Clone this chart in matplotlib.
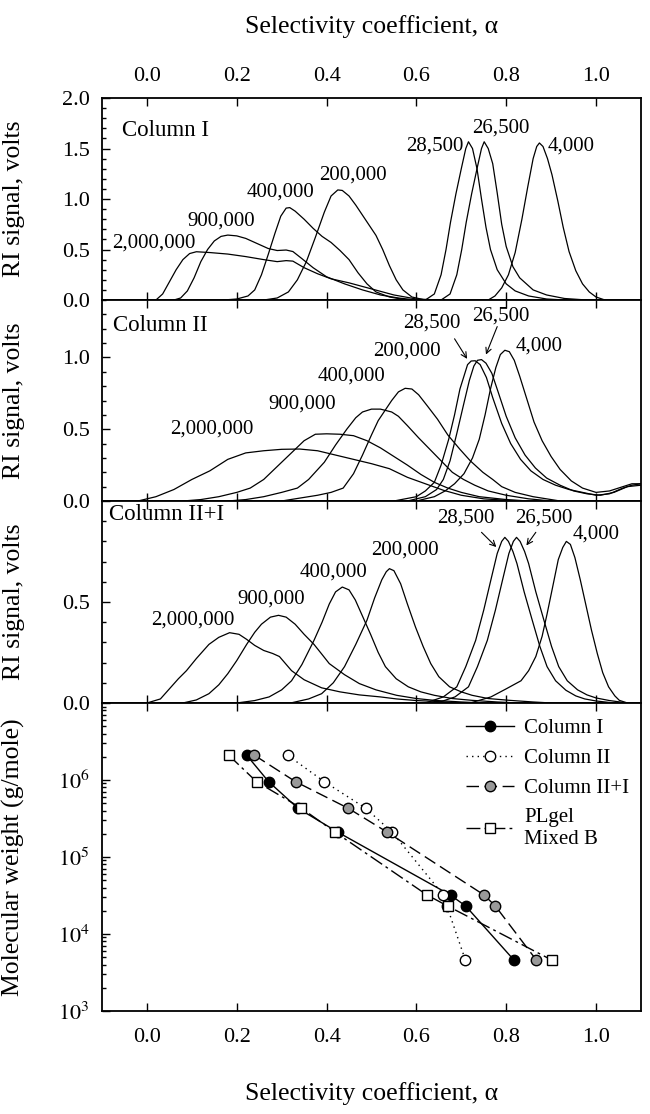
import math
import matplotlib
matplotlib.use('Agg')
import matplotlib.pyplot as plt
from matplotlib.ticker import FixedLocator, MultipleLocator, LogLocator, NullFormatter

plt.rcParams['font.family'] = ['Liberation Serif', 'DejaVu Serif']
plt.rcParams['mathtext.fontset'] = 'stix'

# chromatograms, (alpha, RI signal)
# Column I
c1_2000000 = [(0.02, 0.0), (0.035, 0.06), (0.05, 0.18), (0.065, 0.30), (0.08, 0.40), (0.095, 0.46),
              (0.11, 0.478), (0.14, 0.47), (0.18, 0.455), (0.22, 0.43), (0.26, 0.40), (0.29, 0.38),
              (0.31, 0.39), (0.325, 0.385), (0.35, 0.32), (0.38, 0.26), (0.41, 0.21), (0.45, 0.17),
              (0.50, 0.11), (0.55, 0.05), (0.60, 0.01), (0.65, 0.0)]
c1_900000 = [(0.06, 0.0), (0.075, 0.02), (0.09, 0.09), (0.105, 0.22), (0.12, 0.38), (0.135, 0.50),
             (0.15, 0.585), (0.165, 0.63), (0.18, 0.643), (0.20, 0.635), (0.22, 0.61), (0.245, 0.56),
             (0.27, 0.51), (0.29, 0.49), (0.31, 0.495), (0.325, 0.48), (0.345, 0.41), (0.37, 0.32),
             (0.40, 0.23), (0.44, 0.16), (0.48, 0.10), (0.52, 0.05), (0.56, 0.02), (0.60, 0.0)]
c1_400000 = [(0.17, 0.0), (0.20, 0.01), (0.225, 0.04), (0.24, 0.10), (0.255, 0.25), (0.27, 0.45),
             (0.285, 0.66), (0.298, 0.83), (0.31, 0.91), (0.318, 0.915), (0.33, 0.88), (0.35, 0.80),
             (0.37, 0.71), (0.39, 0.63), (0.41, 0.57), (0.43, 0.49), (0.45, 0.40), (0.47, 0.27),
             (0.49, 0.16), (0.51, 0.08), (0.54, 0.03), (0.58, 0.0)]
c1_200000 = [(0.26, 0.0), (0.29, 0.02), (0.315, 0.08), (0.335, 0.20), (0.355, 0.38), (0.375, 0.62),
             (0.395, 0.87), (0.41, 1.03), (0.425, 1.09), (0.435, 1.085), (0.45, 1.03), (0.465, 0.94),
             (0.48, 0.84), (0.495, 0.74), (0.51, 0.64), (0.525, 0.50), (0.54, 0.34), (0.555, 0.20),
             (0.57, 0.10), (0.59, 0.03), (0.62, 0.0)]
c1_28500 = [(0.62, 0.0), (0.64, 0.06), (0.655, 0.25), (0.666, 0.50), (0.676, 0.77), (0.688, 1.05),
            (0.70, 1.30), (0.71, 1.50), (0.716, 1.567), (0.725, 1.50), (0.735, 1.30), (0.745, 1.0),
            (0.755, 0.72), (0.765, 0.50), (0.78, 0.30), (0.80, 0.16), (0.82, 0.09), (0.85, 0.04),
            (0.89, 0.01), (0.93, 0.0)]
c1_26500 = [(0.655, 0.0), (0.675, 0.06), (0.69, 0.25), (0.701, 0.50), (0.711, 0.77), (0.723, 1.05),
            (0.735, 1.30), (0.745, 1.50), (0.751, 1.567), (0.76, 1.50), (0.77, 1.35), (0.78, 1.06),
            (0.79, 0.75), (0.80, 0.53), (0.815, 0.33), (0.83, 0.22), (0.86, 0.10), (0.89, 0.05),
            (0.93, 0.015), (0.98, 0.0)]
c1_4000 = [(0.76, 0.0), (0.775, 0.04), (0.79, 0.12), (0.805, 0.25), (0.82, 0.47), (0.835, 0.80),
           (0.848, 1.12), (0.86, 1.40), (0.868, 1.52), (0.874, 1.555), (0.882, 1.52), (0.892, 1.40),
           (0.902, 1.24), (0.915, 0.98), (0.927, 0.72), (0.94, 0.48), (0.955, 0.29), (0.97, 0.16),
           (0.985, 0.08), (1.0, 0.03), (1.02, 0.0)]

# Column II
c2_2000000 = [(-0.02, 0.0), (0.02, 0.03), (0.06, 0.08), (0.10, 0.15), (0.14, 0.21), (0.18, 0.29),
              (0.22, 0.335), (0.26, 0.35), (0.30, 0.36), (0.34, 0.362), (0.38, 0.35), (0.42, 0.32),
              (0.46, 0.29), (0.50, 0.26), (0.54, 0.225), (0.58, 0.165), (0.62, 0.12), (0.66, 0.075),
              (0.70, 0.04), (0.75, 0.015), (0.80, 0.005), (0.85, 0.0)]
c2_900000 = [(0.08, 0.0), (0.12, 0.01), (0.16, 0.03), (0.20, 0.06), (0.23, 0.09), (0.26, 0.15),
             (0.29, 0.24), (0.32, 0.33), (0.35, 0.42), (0.375, 0.465), (0.40, 0.468), (0.43, 0.465),
             (0.46, 0.455), (0.49, 0.42), (0.52, 0.37), (0.55, 0.31), (0.58, 0.25), (0.61, 0.185),
             (0.64, 0.13), (0.67, 0.09), (0.70, 0.06), (0.74, 0.03), (0.80, 0.01), (0.85, 0.0)]
c2_400000 = [(0.18, 0.0), (0.22, 0.01), (0.26, 0.03), (0.30, 0.06), (0.335, 0.09), (0.36, 0.15),
             (0.395, 0.27), (0.42, 0.39), (0.445, 0.50), (0.465, 0.58), (0.48, 0.62), (0.50, 0.64),
             (0.52, 0.64), (0.545, 0.62), (0.56, 0.59), (0.58, 0.525), (0.605, 0.44), (0.63, 0.36),
             (0.655, 0.28), (0.68, 0.20), (0.705, 0.15), (0.73, 0.11), (0.76, 0.07), (0.80, 0.04),
             (0.85, 0.015), (0.90, 0.0)]
c2_200000 = [(0.30, 0.0), (0.34, 0.02), (0.38, 0.04), (0.41, 0.06), (0.437, 0.09), (0.46, 0.19),
             (0.48, 0.32), (0.50, 0.46), (0.515, 0.56), (0.53, 0.63), (0.545, 0.70), (0.56, 0.76),
             (0.575, 0.785), (0.59, 0.78), (0.605, 0.74), (0.625, 0.66), (0.647, 0.57), (0.67, 0.46),
             (0.697, 0.36), (0.72, 0.28), (0.748, 0.20), (0.77, 0.15), (0.79, 0.10), (0.82, 0.06),
             (0.86, 0.03), (0.92, 0.0)]
c2_28500 = [(0.55, 0.0), (0.60, 0.03), (0.62, 0.07), (0.64, 0.13), (0.655, 0.25), (0.672, 0.43),
            (0.685, 0.60), (0.697, 0.78), (0.707, 0.88), (0.714, 0.95), (0.722, 0.975), (0.731, 0.977),
            (0.742, 0.95), (0.756, 0.86), (0.77, 0.72), (0.79, 0.54), (0.81, 0.40), (0.832, 0.29),
            (0.855, 0.21), (0.882, 0.15), (0.91, 0.11), (0.94, 0.08), (0.97, 0.06), (1.0, 0.04),
            (1.03, 0.05), (1.06, 0.09), (1.08, 0.11), (1.10, 0.12)]
c2_26500 = [(0.58, 0.0), (0.62, 0.03), (0.645, 0.08), (0.66, 0.15), (0.675, 0.28), (0.69, 0.47),
            (0.705, 0.67), (0.718, 0.84), (0.728, 0.94), (0.736, 0.98), (0.745, 0.985), (0.755, 0.96),
            (0.768, 0.89), (0.782, 0.76), (0.80, 0.59), (0.82, 0.44), (0.842, 0.32), (0.865, 0.23),
            (0.89, 0.16), (0.92, 0.11), (0.95, 0.07), (0.98, 0.05), (1.01, 0.04), (1.04, 0.06),
            (1.07, 0.10), (1.10, 0.11)]
c2_4000 = [(0.60, 0.0), (0.64, 0.03), (0.664, 0.07), (0.685, 0.12), (0.706, 0.19), (0.725, 0.30),
           (0.74, 0.43), (0.753, 0.60), (0.765, 0.78), (0.777, 0.93), (0.787, 1.02), (0.797, 1.05),
           (0.807, 1.04), (0.818, 0.98), (0.83, 0.87), (0.845, 0.72), (0.862, 0.55), (0.88, 0.42),
           (0.90, 0.31), (0.92, 0.22), (0.945, 0.14), (0.97, 0.09), (1.0, 0.06), (1.03, 0.07),
           (1.06, 0.10), (1.08, 0.12), (1.10, 0.12)]

# Column II+I
c3_2000000 = [(0.0, 0.0), (0.03, 0.02), (0.054, 0.08), (0.07, 0.12), (0.088, 0.16), (0.11, 0.22),
              (0.138, 0.29), (0.16, 0.325), (0.184, 0.348), (0.205, 0.34), (0.222, 0.315), (0.24, 0.285),
              (0.26, 0.26), (0.28, 0.245), (0.295, 0.23), (0.322, 0.16), (0.35, 0.115), (0.389, 0.075),
              (0.43, 0.055), (0.473, 0.04), (0.52, 0.03), (0.556, 0.02), (0.60, 0.012), (0.64, 0.008),
              (0.70, 0.0)]
c3_900000 = [(0.08, 0.0), (0.11, 0.015), (0.138, 0.046), (0.16, 0.09), (0.18, 0.145), (0.20, 0.21),
             (0.222, 0.29), (0.24, 0.35), (0.255, 0.39), (0.275, 0.425), (0.293, 0.434), (0.31, 0.425),
             (0.33, 0.39), (0.35, 0.34), (0.372, 0.29), (0.39, 0.24), (0.406, 0.195), (0.44, 0.14),
             (0.473, 0.096), (0.51, 0.065), (0.556, 0.038), (0.60, 0.022), (0.64, 0.013), (0.70, 0.005),
             (0.75, 0.0)]
c3_400000 = [(0.20, 0.0), (0.24, 0.012), (0.272, 0.03), (0.30, 0.065), (0.322, 0.11), (0.345, 0.19),
             (0.372, 0.31), (0.39, 0.40), (0.406, 0.49), (0.42, 0.55), (0.435, 0.574), (0.45, 0.56),
             (0.464, 0.51), (0.48, 0.43), (0.498, 0.34), (0.515, 0.25), (0.531, 0.18), (0.555, 0.12),
             (0.582, 0.08), (0.61, 0.055), (0.64, 0.038), (0.68, 0.022), (0.724, 0.013), (0.78, 0.005),
             (0.83, 0.0)]
c3_200000 = [(0.32, 0.0), (0.36, 0.02), (0.389, 0.046), (0.415, 0.10), (0.44, 0.18), (0.465, 0.29),
             (0.49, 0.41), (0.507, 0.52), (0.523, 0.61), (0.533, 0.65), (0.54, 0.665), (0.55, 0.655),
             (0.565, 0.59), (0.58, 0.49), (0.598, 0.376), (0.615, 0.28), (0.632, 0.195), (0.65, 0.13),
             (0.674, 0.08), (0.70, 0.055), (0.724, 0.038), (0.76, 0.022), (0.808, 0.013), (0.86, 0.005),
             (0.90, 0.0)]
c3_28500 = [(0.62, 0.0), (0.66, 0.03), (0.69, 0.08), (0.71, 0.18), (0.732, 0.31), (0.75, 0.46),
            (0.766, 0.61), (0.78, 0.74), (0.79, 0.80), (0.797, 0.82), (0.805, 0.80), (0.815, 0.75),
            (0.824, 0.69), (0.84, 0.55), (0.858, 0.41), (0.875, 0.28), (0.891, 0.18), (0.91, 0.11),
            (0.933, 0.063), (0.955, 0.035), (0.975, 0.02), (1.0, 0.01), (1.04, 0.0)]
c3_26500 = [(0.646, 0.0), (0.686, 0.03), (0.716, 0.08), (0.736, 0.18), (0.758, 0.31), (0.776, 0.46),
            (0.792, 0.61), (0.806, 0.74), (0.816, 0.80), (0.823, 0.82), (0.831, 0.80), (0.841, 0.75),
            (0.85, 0.69), (0.866, 0.55), (0.884, 0.41), (0.901, 0.28), (0.917, 0.18), (0.936, 0.11),
            (0.959, 0.065), (0.98, 0.04), (1.0, 0.025), (1.03, 0.012), (1.07, 0.0)]
c3_4000 = [(0.72, 0.0), (0.766, 0.03), (0.80, 0.07), (0.833, 0.11), (0.85, 0.16), (0.866, 0.23),
           (0.88, 0.33), (0.891, 0.44), (0.904, 0.58), (0.916, 0.71), (0.926, 0.77), (0.934, 0.80),
           (0.943, 0.785), (0.953, 0.72), (0.965, 0.61), (0.978, 0.48), (0.99, 0.36), (1.003, 0.244),
           (1.015, 0.15), (1.028, 0.08), (1.042, 0.035), (1.052, 0.013), (1.07, 0.0)]

peak_labels = ['2,000,000', '900,000', '400,000', '200,000', '28,500', '26,500', '4,000']

# calibration: molecular weight vs alpha
mol_weight = [2.1e6, 9.5e5, 4.3e5, 2.1e5, 3.2e4, 2.3e4, 4.6e3]
alpha_col1 = [0.222, 0.271, 0.336, 0.425, 0.676, 0.710, 0.817]
alpha_col2 = [0.313, 0.395, 0.487, 0.546, 0.660, 0.668, 0.709]
alpha_col21 = [0.239, 0.331, 0.448, 0.535, 0.751, 0.776, 0.867]
alpha_plgel = [0.182, 0.244, 0.344, 0.419, 0.624, 0.670, 0.901]

fig = plt.figure(figsize=(6.5, 11.14), dpi=100)
gs = fig.add_gridspec(4, 1, height_ratios=[202, 201, 202, 308], hspace=0,
                      left=0.157, right=0.986, top=0.912, bottom=0.0925)
ax1 = fig.add_subplot(gs[0])
ax2 = fig.add_subplot(gs[1], sharex=ax1)
ax3 = fig.add_subplot(gs[2], sharex=ax1)
ax4 = fig.add_subplot(gs[3], sharex=ax1)
axes = [ax1, ax2, ax3, ax4]

for ax in axes:
    for sp in ax.spines.values():
        sp.set_linewidth(1.3)
    ax.tick_params(which='both', direction='in', top=True, bottom=True, right=False,
                   labeltop=False, labelbottom=False, labelsize=16, pad=9, width=1)
    ax.tick_params(which='major', length=6)
    ax.tick_params(which='minor', length=3)
    ax.set_xlim(-0.1, 1.1)
    ax.xaxis.set_major_locator(FixedLocator([0.0, 0.2, 0.4, 0.6, 0.8, 1.0]))
    ax.xaxis.set_major_formatter(lambda v, p: f'{v:.1f}')
ax1.tick_params(axis='x', labeltop=True, pad=9)
ax4.tick_params(axis='x', labelbottom=True, pad=12)

panels = [
    (ax1, [c1_2000000, c1_900000, c1_400000, c1_200000, c1_28500, c1_26500, c1_4000], 2.0,
     [0.0, 0.5, 1.0, 1.5, 2.0], True),
    (ax2, [c2_2000000, c2_900000, c2_400000, c2_200000, c2_28500, c2_26500, c2_4000], 1.4,
     [0.0, 0.5, 1.0], True),
    (ax3, [c3_2000000, c3_900000, c3_400000, c3_200000, c3_28500, c3_26500, c3_4000], 1.0,
     [0.0, 0.5, 1.0], False),
]
for ax, curves, ytop, yt, show_top in panels:
    for pts in curves:
        a, s = zip(*pts)
        ax.plot(a, s, color='k', lw=0.9)
    ax.set_ylim(0, ytop)
    ax.yaxis.set_major_locator(FixedLocator(yt))
    ax.yaxis.set_minor_locator(MultipleLocator(0.1))
    top_val = yt[-1]
    ax.yaxis.set_major_formatter(
        lambda v, p, tv=top_val, st=show_top: '' if (abs(v - tv) < 1e-9 and not st) else f'{v:.1f}')
    ax.set_ylabel('RI signal, volts', fontsize=18.5)
    ax.yaxis.set_label_coords(-0.143, 0.5)

fs_num = 15
# Column I labels
ax1.text(-0.056, 1.68, 'Column I', fontsize=16.5, ha='left', va='center')
for lab, (x, y) in zip(peak_labels, [(0.015, 0.565), (0.166, 0.78), (0.298, 1.07), (0.458, 1.24),
                                     (0.64, 1.52), (0.788, 1.70), (0.945, 1.52)]):
    ax1.text(x, y, lab, fontsize=fs_num, ha='center', va='center')

# Column II labels
ax2.text(-0.076, 1.22, 'Column II', fontsize=16.5, ha='left', va='center')
for lab, (x, y) in zip(peak_labels, [(0.145, 0.50), (0.346, 0.676), (0.455, 0.873), (0.58, 1.046),
                                     (0.634, 1.243), (0.788, 1.29), (0.874, 1.08)]):
    ax2.text(x, y, lab, fontsize=fs_num, ha='center', va='center')
arrow = dict(arrowstyle='->', lw=0.8, color='k', shrinkA=0, shrinkB=0)
ax2.annotate('', xy=(0.713, 0.99), xytext=(0.685, 1.13), arrowprops=arrow)
ax2.annotate('', xy=(0.755, 1.02), xytext=(0.78, 1.215), arrowprops=arrow)

# Column II+I labels
ax3.text(-0.085, 0.935, 'Column II+I', fontsize=16.5, ha='left', va='center')
for lab, (x, y) in zip(peak_labels, [(0.102, 0.41), (0.276, 0.516), (0.416, 0.65), (0.575, 0.756),
                                     (0.709, 0.915), (0.883, 0.915), (1.0, 0.838)]):
    ax3.text(x, y, lab, fontsize=fs_num, ha='center', va='center')
ax3.annotate('', xy=(0.778, 0.772), xytext=(0.745, 0.845), arrowprops=arrow)
ax3.annotate('', xy=(0.845, 0.78), xytext=(0.866, 0.845), arrowprops=arrow)

# calibration curves
ax4.set_yscale('log')
ax4.set_ylim(1e3, 1e7)
ax4.plot(alpha_col1, mol_weight, '-', color='k', lw=1.0, marker='o', ms=7.5,
         mfc='k', mec='k', label='Column I')
ax4.plot(alpha_col2, mol_weight, color='k', lw=1.0, ls=(0, (1, 3)), marker='o', ms=7.5,
         mfc='white', mec='k', label='Column II')
ax4.plot(alpha_col21, mol_weight, color='k', lw=1.0, ls=(0, (9, 4)), marker='o', ms=7.5,
         mfc='0.6', mec='k', label='Column II+I')
ax4.plot(alpha_plgel, mol_weight, color='k', lw=1.0, ls=(0, (10, 3, 2, 3)), marker='s', ms=7.5,
         mfc='white', mec='k', label='PLgel\nMixed B')
ax4.yaxis.set_major_locator(FixedLocator([1e3, 1e4, 1e5, 1e6, 1e7]))
ax4.yaxis.set_major_formatter(lambda v, p: '' if v > 5e6 else r'$10^{%d}$' % round(math.log10(v)))
ax4.yaxis.set_minor_locator(LogLocator(base=10, subs=range(2, 10)))
ax4.yaxis.set_minor_formatter(NullFormatter())
ax4.set_ylabel('Molecular weight (g/mole)', fontsize=18.5)
ax4.yaxis.set_label_coords(-0.143, 0.5)
ax4.legend(loc='upper left', bbox_to_anchor=(0.675, 0.95), frameon=False, fontsize=15,
           handlelength=2.3, handletextpad=0.5, labelspacing=0.5, borderpad=0, borderaxespad=0)

xc = 0.5 * (0.157 + 0.986)
fig.text(xc, 1 - 27 / 1114, 'Selectivity coefficient, α', fontsize=18.5, ha='center', va='center')
fig.text(xc, 1 - 1094 / 1114, 'Selectivity coefficient, α', fontsize=18.5, ha='center', va='center')

fig.savefig('out.png', dpi=100)
